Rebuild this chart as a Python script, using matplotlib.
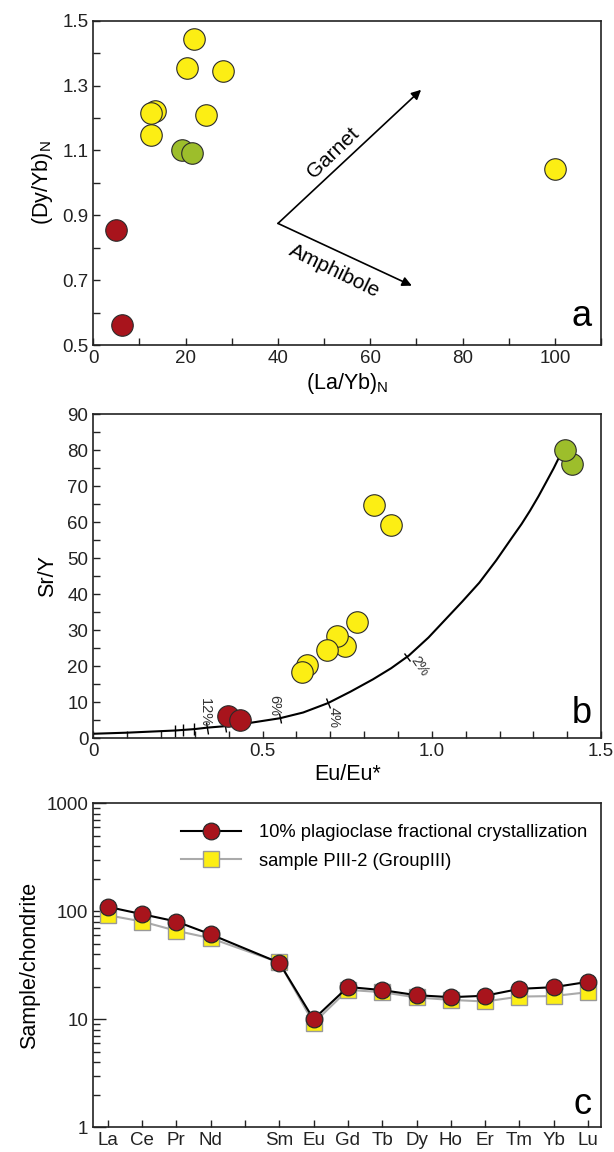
import numpy as np
import matplotlib
matplotlib.use("Agg")
import matplotlib.pyplot as plt
from matplotlib.markers import MarkerStyle
from matplotlib.transforms import Affine2D
from matplotlib.ticker import MultipleLocator, FixedLocator, NullFormatter, LogLocator

plt.rcParams['font.family'] = ['Liberation Sans', 'DejaVu Sans']
plt.rcParams['mathtext.default'] = 'regular'

YELLOW = '#FCEE14'
GREEN = '#9DBE2B'
RED = '#A8141C'
EDGE = '#2a2a2a'

# --- panel a: (La/Yb)N vs (Dy/Yb)N
a_yellow_x = [21.8, 20.4, 28.1, 13.4, 12.4, 24.3, 12.4, 100.1]
a_yellow_y = [1.443, 1.354, 1.344, 1.223, 1.216, 1.208, 1.148, 1.042]
a_green_x = [19.2, 21.4]
a_green_y = [1.101, 1.093]
a_red_x = [4.9, 6.2]
a_red_y = [0.854, 0.562]

# --- panel b: Eu/Eu* vs Sr/Y
b_yellow_x = [0.828, 0.880, 0.778, 0.742, 0.721, 0.689, 0.630, 0.615]
b_yellow_y = [64.8, 59.2, 32.3, 25.7, 28.4, 24.5, 20.5, 18.5]
b_green_x = [1.413, 1.393]
b_green_y = [76.3, 80.1]
b_red_x = [0.397, 0.432]
b_red_y = [6.2, 5.2]

# plagioclase fractionation curve
curve_x = [0.0, 0.10, 0.242, 0.30, 0.337, 0.389, 0.462, 0.551, 0.62, 0.693,
           0.76, 0.826, 0.88, 0.932, 0.99, 1.042, 1.09, 1.140, 1.19, 1.238,
           1.265, 1.29, 1.315, 1.337, 1.36, 1.381]
curve_y = [1.3, 1.6, 2.2, 2.6, 3.0, 3.4, 4.3, 5.6, 7.2, 9.8,
           13.0, 16.4, 19.5, 23.0, 28.0, 33.2, 38.0, 43.2, 49.4, 55.9,
           59.5, 63.2, 67.2, 71.0, 75.0, 79.0]
curve_ticks = [0.242, 0.266, 0.298, 0.337, 0.389, 0.551, 0.693, 0.927]
pct_labels = ['12%', '6%', '4%', '2%']
pct_x = [0.330, 0.533, 0.710, 0.963]
pct_y = [7.3, 9.1, 5.9, 20.0]
pct_rot = [-90, -90, -90, -55]

# --- panel c: chondrite normalised REE
ree = ['La', 'Ce', 'Pr', 'Nd', 'Pm', 'Sm', 'Eu', 'Gd', 'Tb', 'Dy', 'Ho', 'Er', 'Tm', 'Yb', 'Lu']
ree_used = ['La', 'Ce', 'Pr', 'Nd', 'Sm', 'Eu', 'Gd', 'Tb', 'Dy', 'Ho', 'Er', 'Tm', 'Yb', 'Lu']
model_vals = [109.6, 93.8, 80.2, 61.0, 33.3, 10.0, 19.9, 18.6, 16.7, 16.0, 16.5, 19.1, 19.8, 22.2]
sample_vals = [91.8, 80.2, 65.8, 56.2, 33.5, 9.2, 18.7, 17.8, 15.9, 15.1, 14.6, 16.2, 16.4, 17.8]

fig = plt.figure(figsize=(6.14, 11.52), dpi=100)
L, W, H = 0.152, 0.827, 0.2815
axa = fig.add_axes([L, 0.7005, W, H])
axb = fig.add_axes([L, 0.3590, W, H])
axc = fig.add_axes([L, 0.0214, W, H])

TICK_FS = 13.5
LAB_FS = 15.5

def style(ax):
    for s in ax.spines.values():
        s.set_linewidth(1.2)
        s.set_color('#222222')
    ax.tick_params(which='both', direction='in', top=False, right=False,
                   labelsize=TICK_FS, colors='#222222', width=1.0)
    ax.tick_params(which='major', length=5)
    ax.tick_params(which='minor', length=5)

def dots(ax, x, y, c, z=3):
    for xi, yi in zip(x, y):
        ax.scatter(xi, yi, s=240, c=c, edgecolors=EDGE, linewidths=0.8, zorder=z)

# panel a
style(axa)
axa.set_xlim(0, 110)
axa.set_ylim(0.5, 1.5)
axa.xaxis.set_major_locator(MultipleLocator(20))
axa.xaxis.set_minor_locator(MultipleLocator(10))
axa.yaxis.set_minor_locator(MultipleLocator(0.1))
axa.set_yticks([0.5, 0.7, 0.9, 1.1, 1.3, 1.5])
axa.set_yticklabels(['0.5', '0.7', '0.9', '1.1', '1.3', '1.5'])
dots(axa, a_red_x, a_red_y, RED)
dots(axa, a_yellow_x, a_yellow_y, YELLOW)
dots(axa, a_green_x, a_green_y, GREEN)
arr = dict(arrowstyle='-|>', color='k', lw=1.2, mutation_scale=14, shrinkA=0, shrinkB=0)
axa.annotate('', xy=(71.0, 1.287), xytext=(40.0, 0.875), arrowprops=arr)
axa.annotate('', xy=(69.0, 0.683), xytext=(40.0, 0.875), arrowprops=arr)
axa.text(51.9, 1.094, 'Garnet', rotation=44, fontsize=15, ha='center', va='center')
axa.text(52.3, 0.729, 'Amphibole', rotation=-26, fontsize=15, ha='center', va='center')
axa.set_xlabel('(La/Yb)$_N$', fontsize=LAB_FS, labelpad=3)
axa.set_ylabel('(Dy/Yb)$_N$', fontsize=LAB_FS, labelpad=5)
axa.text(0.982, 0.058, 'a', transform=axa.transAxes, fontsize=26, ha='right', va='baseline')

# panel b
style(axb)
axb.set_xlim(0, 1.5)
axb.set_ylim(0, 90)
axb.xaxis.set_minor_locator(MultipleLocator(0.1))
axb.yaxis.set_major_locator(MultipleLocator(10))
axb.yaxis.set_minor_locator(MultipleLocator(5))
axb.set_xticks([0, 0.5, 1.0, 1.5])
axb.set_xticklabels(['0', '0.5', '1.0', '1.5'])
axb.plot(curve_x, curve_y, color='k', lw=1.5, zorder=2)
for tx in curve_ticks:
    p0 = axb.transData.transform((tx - 0.01, np.interp(tx - 0.01, curve_x, curve_y)))
    p1 = axb.transData.transform((tx + 0.01, np.interp(tx + 0.01, curve_x, curve_y)))
    ang = np.degrees(np.arctan2(p1[1] - p0[1], p1[0] - p0[0]))
    m = MarkerStyle('|', transform=Affine2D().rotate_deg(ang))
    axb.plot(tx, np.interp(tx, curve_x, curve_y), marker=m, ms=8, mew=1.0, color='k', zorder=2)
for lab, px, py, r in zip(pct_labels, pct_x, pct_y, pct_rot):
    axb.text(px, py, lab, rotation=r, fontsize=10.5, color='#333333', ha='center', va='center')
dots(axb, b_yellow_x, b_yellow_y, YELLOW)
dots(axb, b_green_x, b_green_y, GREEN)
dots(axb, b_red_x, b_red_y, RED)
axb.set_xlabel('Eu/Eu*', fontsize=LAB_FS, labelpad=3)
axb.set_ylabel('Sr/Y', fontsize=LAB_FS, labelpad=7)
axb.text(0.982, 0.048, 'b', transform=axb.transAxes, fontsize=26, ha='right', va='baseline')

# panel c
style(axc)
pos = [ree.index(e) + 1 for e in ree_used]
axc.plot(pos, sample_vals, color='#aaaaaa', lw=1.5, marker='s', ms=11.5,
         mfc=YELLOW, mec='#999999', mew=1.0, zorder=2, label='sample PIII-2 (GroupIII)')
axc.plot(pos, model_vals, color='k', lw=1.5, marker='o', ms=12,
         mfc=RED, mec=EDGE, mew=0.9, zorder=3, label='10% plagioclase fractional crystallization')
axc.set_yscale('log')
axc.set_ylim(1, 1000)
axc.set_xlim(0.58, 15.38)
axc.set_xticks(range(1, len(ree) + 1))
axc.set_xticklabels([e if e != 'Pm' else '' for e in ree])
axc.yaxis.set_major_locator(FixedLocator([1, 10, 100, 1000]))
axc.set_yticklabels(['1', '10', '100', '1000'])
axc.yaxis.set_minor_locator(LogLocator(base=10, subs=np.arange(2, 10)))
axc.yaxis.set_minor_formatter(NullFormatter())
axc.tick_params(axis='y', which='major', length=9)
axc.tick_params(axis='y', which='minor', length=5)
axc.tick_params(axis='x', which='major', length=5)
axc.set_ylabel('Sample/chondrite', fontsize=LAB_FS, labelpad=5)
h, l = axc.get_legend_handles_labels()
axc.legend(h[::-1], l[::-1], loc='upper left', bbox_to_anchor=(0.172, 0.935), frameon=False,
           fontsize=13.2, handlelength=3.3, handletextpad=1.0, borderaxespad=0, borderpad=0,
           labelspacing=0.62, markerscale=1.0)
axc.text(0.982, 0.041, 'c', transform=axc.transAxes, fontsize=26, ha='right', va='baseline')

fig.savefig('out.png', dpi=100)
